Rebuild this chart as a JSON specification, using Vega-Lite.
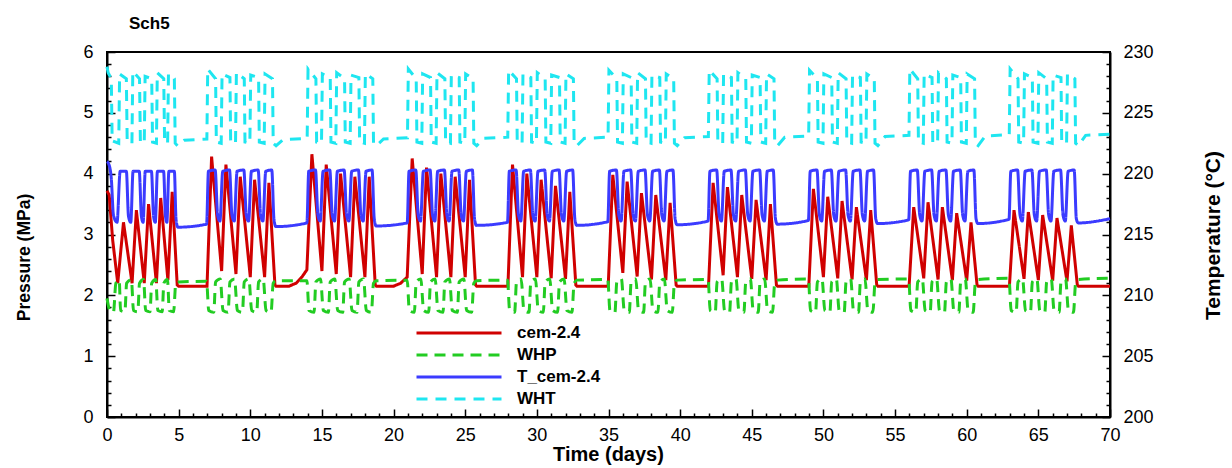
{
"$schema": "https://vega.github.io/schema/vega-lite/v6.json",
"width": 1003, "height": 365,
"autosize": {"type": "none"},
"padding": {"left": 107, "top": 52, "right": 122, "bottom": 51},
"background": "white",
"title": {"text": "Sch5", "anchor": "start", "frame": "group", "dx": 22, "dy": 25, "offset": 22, "baseline": "alphabetic", "fontSize": 17, "fontWeight": "bold", "font": "Liberation Sans", "color": "black"},
"config": {"view": {"stroke": "black", "strokeWidth": 2}, "font": "Liberation Sans"},
"datasets": {
"red": [
{"t":0,"v":3.72},{"t":0.15,"v":3.65},{"t":0.4,"v":2.9},{"t":0.75,"v":2.2},
{"t":1.15,"v":3.2},{"t":1.75,"v":2.2},{"t":2.05,"v":3.4},{"t":2.6,"v":2.2},{"t":2.9,"v":3.5},{"t":3.45,"v":2.2},{"t":3.75,"v":3.6},{"t":4.25,"v":2.25},{"t":4.55,"v":3.7},{"t":4.9,"v":2.17},{"t":5.0,"v":2.15},{"t":6.98,"v":2.15},
{"t":7.3,"v":4.28},{"t":8.0,"v":2.4},{"t":8.3,"v":4.15},{"t":9.0,"v":2.35},{"t":9.3,"v":3.95},{"t":10.0,"v":2.3},{"t":10.3,"v":3.9},{"t":11.0,"v":2.3},{"t":11.3,"v":3.85},{"t":11.72,"v":2.17},{"t":11.8,"v":2.15},{"t":12.7,"v":2.15},{"t":13.2,"v":2.2},{"t":13.6,"v":2.3},{"t":13.95,"v":2.42},
{"t":14.3,"v":4.32},{"t":15.0,"v":2.4},{"t":15.3,"v":4.15},{"t":16.0,"v":2.35},{"t":16.3,"v":4.0},{"t":17.0,"v":2.3},{"t":17.3,"v":3.95},{"t":18.0,"v":2.3},{"t":18.3,"v":3.95},{"t":18.72,"v":2.17},{"t":18.8,"v":2.15},{"t":20.0,"v":2.15},{"t":20.5,"v":2.2},{"t":20.95,"v":2.3},
{"t":21.3,"v":4.25},{"t":22.0,"v":2.35},{"t":22.3,"v":4.1},{"t":23.0,"v":2.3},{"t":23.3,"v":4.0},{"t":24.0,"v":2.3},{"t":24.3,"v":3.95},{"t":25.0,"v":2.3},{"t":25.3,"v":3.9},{"t":25.72,"v":2.17},{"t":25.8,"v":2.15},{"t":27.98,"v":2.15},
{"t":28.3,"v":4.15},{"t":29.0,"v":2.3},{"t":29.3,"v":4.0},{"t":30.0,"v":2.3},{"t":30.3,"v":3.9},{"t":31.0,"v":2.28},{"t":31.3,"v":3.8},{"t":32.0,"v":2.27},{"t":32.3,"v":3.7},{"t":32.72,"v":2.17},{"t":32.8,"v":2.15},{"t":34.98,"v":2.15},
{"t":35.3,"v":3.98},{"t":36.0,"v":2.37},{"t":36.3,"v":3.87},{"t":37.0,"v":2.31},{"t":37.3,"v":3.68},{"t":38.0,"v":2.26},{"t":38.3,"v":3.65},{"t":39.0,"v":2.25},{"t":39.3,"v":3.52},{"t":39.72,"v":2.17},{"t":39.8,"v":2.15},{"t":41.98,"v":2.15},
{"t":42.3,"v":3.85},{"t":43.0,"v":2.33},{"t":43.3,"v":3.78},{"t":44.0,"v":2.3},{"t":44.3,"v":3.65},{"t":45.0,"v":2.27},{"t":45.3,"v":3.57},{"t":46.0,"v":2.25},{"t":46.3,"v":3.5},{"t":46.72,"v":2.17},{"t":46.8,"v":2.15},{"t":48.98,"v":2.15},
{"t":49.3,"v":3.75},{"t":50.0,"v":2.3},{"t":50.3,"v":3.62},{"t":51.0,"v":2.28},{"t":51.3,"v":3.55},{"t":52.0,"v":2.26},{"t":52.3,"v":3.45},{"t":53.0,"v":2.25},{"t":53.3,"v":3.4},{"t":53.72,"v":2.17},{"t":53.8,"v":2.15},{"t":55.98,"v":2.15},
{"t":56.3,"v":3.45},{"t":57.0,"v":2.28},{"t":57.3,"v":3.53},{"t":58.0,"v":2.26},{"t":58.3,"v":3.45},{"t":59.0,"v":2.25},{"t":59.3,"v":3.35},{"t":60.0,"v":2.24},{"t":60.3,"v":3.2},{"t":60.72,"v":2.17},{"t":60.8,"v":2.15},{"t":62.98,"v":2.15},
{"t":63.3,"v":3.4},{"t":64.0,"v":2.27},{"t":64.3,"v":3.37},{"t":65.0,"v":2.25},{"t":65.3,"v":3.32},{"t":66.0,"v":2.24},{"t":66.3,"v":3.27},{"t":67.0,"v":2.23},{"t":67.3,"v":3.15},{"t":67.72,"v":2.17},{"t":67.8,"v":2.15},{"t":70,"v":2.15}
],
"green": [
{"t":0,"v":1.95},{"t":0.2,"v":1.75},{"t":0.45,"v":1.72},{"t":0.62,"v":2.2},{"t":0.85,"v":2.25},
{"t":0.95,"v":1.75},{"t":1.25,"v":1.73},{"t":1.37,"v":2.2},{"t":1.7,"v":2.26},
{"t":1.85,"v":1.75},{"t":2.15,"v":1.73},{"t":2.27,"v":2.2},{"t":2.55,"v":2.26},
{"t":2.7,"v":1.75},{"t":3.0,"v":1.73},{"t":3.12,"v":2.2},{"t":3.4,"v":2.26},
{"t":3.55,"v":1.75},{"t":3.85,"v":1.73},{"t":3.97,"v":2.2},{"t":4.22,"v":2.26},
{"t":4.35,"v":1.75},{"t":4.65,"v":1.73},{"t":4.8,"v":2.2},{"t":5.0,"v":2.22},{"t":6.95,"v":2.23},
{"t":7.1,"v":1.75},{"t":7.45,"v":1.72},{"t":7.58,"v":2.22},{"t":7.9,"v":2.27},
{"t":8.1,"v":1.75},{"t":8.45,"v":1.72},{"t":8.58,"v":2.22},{"t":8.9,"v":2.27},
{"t":9.1,"v":1.75},{"t":9.45,"v":1.72},{"t":9.58,"v":2.22},{"t":9.9,"v":2.27},
{"t":10.1,"v":1.75},{"t":10.45,"v":1.72},{"t":10.58,"v":2.22},{"t":10.9,"v":2.27},
{"t":11.1,"v":1.75},{"t":11.45,"v":1.72},{"t":11.6,"v":2.2},{"t":11.8,"v":2.24},{"t":13.95,"v":2.24},
{"t":14.1,"v":1.75},{"t":14.45,"v":1.72},{"t":14.58,"v":2.22},{"t":14.9,"v":2.27},
{"t":15.1,"v":1.75},{"t":15.45,"v":1.72},{"t":15.58,"v":2.22},{"t":15.9,"v":2.27},
{"t":16.1,"v":1.75},{"t":16.45,"v":1.72},{"t":16.58,"v":2.22},{"t":16.9,"v":2.27},
{"t":17.1,"v":1.75},{"t":17.45,"v":1.72},{"t":17.58,"v":2.22},{"t":17.9,"v":2.27},
{"t":18.1,"v":1.75},{"t":18.45,"v":1.72},{"t":18.6,"v":2.2},{"t":18.8,"v":2.24},{"t":20.95,"v":2.25},
{"t":21.1,"v":1.75},{"t":21.45,"v":1.72},{"t":21.58,"v":2.22},{"t":21.9,"v":2.27},
{"t":22.1,"v":1.75},{"t":22.45,"v":1.72},{"t":22.58,"v":2.22},{"t":22.9,"v":2.27},
{"t":23.1,"v":1.75},{"t":23.45,"v":1.72},{"t":23.58,"v":2.22},{"t":23.9,"v":2.27},
{"t":24.1,"v":1.75},{"t":24.45,"v":1.72},{"t":24.58,"v":2.22},{"t":24.9,"v":2.27},
{"t":25.1,"v":1.75},{"t":25.45,"v":1.72},{"t":25.6,"v":2.2},{"t":25.8,"v":2.24},{"t":27.95,"v":2.25},
{"t":28.1,"v":1.75},{"t":28.45,"v":1.72},{"t":28.58,"v":2.22},{"t":28.9,"v":2.27},
{"t":29.1,"v":1.75},{"t":29.45,"v":1.72},{"t":29.58,"v":2.22},{"t":29.9,"v":2.27},
{"t":30.1,"v":1.75},{"t":30.45,"v":1.72},{"t":30.58,"v":2.22},{"t":30.9,"v":2.27},
{"t":31.1,"v":1.75},{"t":31.45,"v":1.72},{"t":31.58,"v":2.22},{"t":31.9,"v":2.27},
{"t":32.1,"v":1.75},{"t":32.45,"v":1.72},{"t":32.6,"v":2.2},{"t":32.8,"v":2.25},{"t":34.95,"v":2.26},
{"t":35.1,"v":1.75},{"t":35.45,"v":1.72},{"t":35.58,"v":2.22},{"t":35.9,"v":2.27},
{"t":36.1,"v":1.75},{"t":36.45,"v":1.72},{"t":36.58,"v":2.22},{"t":36.9,"v":2.27},
{"t":37.1,"v":1.75},{"t":37.45,"v":1.72},{"t":37.58,"v":2.22},{"t":37.9,"v":2.27},
{"t":38.1,"v":1.75},{"t":38.45,"v":1.72},{"t":38.58,"v":2.22},{"t":38.9,"v":2.27},
{"t":39.1,"v":1.75},{"t":39.45,"v":1.72},{"t":39.6,"v":2.2},{"t":39.8,"v":2.25},{"t":41.95,"v":2.26},
{"t":42.1,"v":1.75},{"t":42.45,"v":1.72},{"t":42.58,"v":2.22},{"t":42.9,"v":2.27},
{"t":43.1,"v":1.75},{"t":43.45,"v":1.72},{"t":43.58,"v":2.22},{"t":43.9,"v":2.27},
{"t":44.1,"v":1.75},{"t":44.45,"v":1.72},{"t":44.58,"v":2.22},{"t":44.9,"v":2.27},
{"t":45.1,"v":1.75},{"t":45.45,"v":1.72},{"t":45.58,"v":2.22},{"t":45.9,"v":2.27},
{"t":46.1,"v":1.75},{"t":46.45,"v":1.72},{"t":46.6,"v":2.2},{"t":46.8,"v":2.25},{"t":48.95,"v":2.27},
{"t":49.1,"v":1.75},{"t":49.45,"v":1.72},{"t":49.58,"v":2.22},{"t":49.9,"v":2.27},
{"t":50.1,"v":1.75},{"t":50.45,"v":1.72},{"t":50.58,"v":2.22},{"t":50.9,"v":2.27},
{"t":51.1,"v":1.75},{"t":51.45,"v":1.72},{"t":51.58,"v":2.22},{"t":51.9,"v":2.27},
{"t":52.1,"v":1.75},{"t":52.45,"v":1.72},{"t":52.58,"v":2.22},{"t":52.9,"v":2.27},
{"t":53.1,"v":1.75},{"t":53.45,"v":1.72},{"t":53.6,"v":2.2},{"t":53.8,"v":2.26},{"t":55.95,"v":2.27},
{"t":56.1,"v":1.75},{"t":56.45,"v":1.72},{"t":56.58,"v":2.22},{"t":56.9,"v":2.27},
{"t":57.1,"v":1.75},{"t":57.45,"v":1.72},{"t":57.58,"v":2.22},{"t":57.9,"v":2.27},
{"t":58.1,"v":1.75},{"t":58.45,"v":1.72},{"t":58.58,"v":2.22},{"t":58.9,"v":2.27},
{"t":59.1,"v":1.75},{"t":59.45,"v":1.72},{"t":59.58,"v":2.22},{"t":59.9,"v":2.27},
{"t":60.1,"v":1.75},{"t":60.45,"v":1.72},{"t":60.6,"v":2.2},{"t":60.8,"v":2.26},{"t":62.95,"v":2.28},
{"t":63.1,"v":1.75},{"t":63.45,"v":1.72},{"t":63.58,"v":2.22},{"t":63.9,"v":2.27},
{"t":64.1,"v":1.75},{"t":64.45,"v":1.72},{"t":64.58,"v":2.22},{"t":64.9,"v":2.27},
{"t":65.1,"v":1.75},{"t":65.45,"v":1.72},{"t":65.58,"v":2.22},{"t":65.9,"v":2.27},
{"t":66.1,"v":1.75},{"t":66.45,"v":1.72},{"t":66.58,"v":2.22},{"t":66.9,"v":2.27},
{"t":67.1,"v":1.75},{"t":67.45,"v":1.72},{"t":67.6,"v":2.2},{"t":67.8,"v":2.26},{"t":70,"v":2.28}
],
"blue": [
{"t":0,"v":221.0},{"t":0.12,"v":220.8},{"t":0.3,"v":219.6},{"t":0.45,"v":216.6},{"t":0.7,"v":216.0},
{"t":0.92,"v":220.2},{"t":1.35,"v":220.2},{"t":1.5,"v":216.5},{"t":1.66,"v":216.0},
{"t":1.82,"v":220.2},{"t":2.25,"v":220.2},{"t":2.4,"v":216.5},{"t":2.52,"v":216.0},
{"t":2.67,"v":220.2},{"t":3.1,"v":220.2},{"t":3.25,"v":216.5},{"t":3.37,"v":216.0},
{"t":3.52,"v":220.2},{"t":3.95,"v":220.2},{"t":4.08,"v":216.5},{"t":4.18,"v":216.0},
{"t":4.32,"v":220.2},{"t":4.7,"v":220.2},{"t":4.82,"v":216.2},{"t":4.95,"v":215.6},{"t":6.95,"v":215.85},
{"t":7.08,"v":220.2},{"t":7.55,"v":220.3},{"t":7.72,"v":216.6},{"t":7.88,"v":216.1},
{"t":8.08,"v":220.2},{"t":8.55,"v":220.3},{"t":8.72,"v":216.6},{"t":8.88,"v":216.1},
{"t":9.08,"v":220.2},{"t":9.55,"v":220.3},{"t":9.72,"v":216.6},{"t":9.88,"v":216.1},
{"t":10.08,"v":220.2},{"t":10.55,"v":220.3},{"t":10.72,"v":216.6},{"t":10.88,"v":216.1},
{"t":11.08,"v":220.2},{"t":11.5,"v":220.3},{"t":11.65,"v":216.3},{"t":11.78,"v":215.65},{"t":13.95,"v":215.95},
{"t":14.08,"v":220.2},{"t":14.55,"v":220.3},{"t":14.72,"v":216.6},{"t":14.88,"v":216.1},
{"t":15.08,"v":220.2},{"t":15.55,"v":220.3},{"t":15.72,"v":216.6},{"t":15.88,"v":216.1},
{"t":16.08,"v":220.2},{"t":16.55,"v":220.3},{"t":16.72,"v":216.6},{"t":16.88,"v":216.1},
{"t":17.08,"v":220.2},{"t":17.55,"v":220.3},{"t":17.72,"v":216.6},{"t":17.88,"v":216.1},
{"t":18.08,"v":220.2},{"t":18.5,"v":220.3},{"t":18.65,"v":216.3},{"t":18.78,"v":215.7},{"t":20.95,"v":215.95},
{"t":21.08,"v":220.2},{"t":21.55,"v":220.3},{"t":21.72,"v":216.6},{"t":21.88,"v":216.1},
{"t":22.08,"v":220.2},{"t":22.55,"v":220.3},{"t":22.72,"v":216.6},{"t":22.88,"v":216.1},
{"t":23.08,"v":220.2},{"t":23.55,"v":220.3},{"t":23.72,"v":216.6},{"t":23.88,"v":216.1},
{"t":24.08,"v":220.2},{"t":24.55,"v":220.3},{"t":24.72,"v":216.6},{"t":24.88,"v":216.1},
{"t":25.08,"v":220.2},{"t":25.5,"v":220.3},{"t":25.65,"v":216.3},{"t":25.78,"v":215.75},{"t":27.95,"v":216.0},
{"t":28.08,"v":220.2},{"t":28.55,"v":220.3},{"t":28.72,"v":216.6},{"t":28.88,"v":216.1},
{"t":29.08,"v":220.2},{"t":29.55,"v":220.3},{"t":29.72,"v":216.6},{"t":29.88,"v":216.1},
{"t":30.08,"v":220.2},{"t":30.55,"v":220.3},{"t":30.72,"v":216.6},{"t":30.88,"v":216.1},
{"t":31.08,"v":220.2},{"t":31.55,"v":220.3},{"t":31.72,"v":216.6},{"t":31.88,"v":216.1},
{"t":32.08,"v":220.2},{"t":32.5,"v":220.3},{"t":32.65,"v":216.3},{"t":32.78,"v":215.75},{"t":34.95,"v":216.05},
{"t":35.08,"v":220.2},{"t":35.55,"v":220.3},{"t":35.72,"v":216.6},{"t":35.88,"v":216.1},
{"t":36.08,"v":220.2},{"t":36.55,"v":220.3},{"t":36.72,"v":216.6},{"t":36.88,"v":216.1},
{"t":37.08,"v":220.2},{"t":37.55,"v":220.3},{"t":37.72,"v":216.6},{"t":37.88,"v":216.1},
{"t":38.08,"v":220.2},{"t":38.55,"v":220.3},{"t":38.72,"v":216.6},{"t":38.88,"v":216.1},
{"t":39.08,"v":220.2},{"t":39.5,"v":220.3},{"t":39.65,"v":216.3},{"t":39.78,"v":215.8},{"t":41.95,"v":216.1},
{"t":42.08,"v":220.2},{"t":42.55,"v":220.3},{"t":42.72,"v":216.6},{"t":42.88,"v":216.1},
{"t":43.08,"v":220.2},{"t":43.55,"v":220.3},{"t":43.72,"v":216.6},{"t":43.88,"v":216.1},
{"t":44.08,"v":220.2},{"t":44.55,"v":220.3},{"t":44.72,"v":216.6},{"t":44.88,"v":216.1},
{"t":45.08,"v":220.2},{"t":45.55,"v":220.3},{"t":45.72,"v":216.6},{"t":45.88,"v":216.1},
{"t":46.08,"v":220.2},{"t":46.5,"v":220.3},{"t":46.65,"v":216.3},{"t":46.78,"v":215.85},{"t":48.95,"v":216.15},
{"t":49.08,"v":220.2},{"t":49.55,"v":220.3},{"t":49.72,"v":216.6},{"t":49.88,"v":216.1},
{"t":50.08,"v":220.2},{"t":50.55,"v":220.3},{"t":50.72,"v":216.6},{"t":50.88,"v":216.1},
{"t":51.08,"v":220.2},{"t":51.55,"v":220.3},{"t":51.72,"v":216.6},{"t":51.88,"v":216.1},
{"t":52.08,"v":220.2},{"t":52.55,"v":220.3},{"t":52.72,"v":216.6},{"t":52.88,"v":216.1},
{"t":53.08,"v":220.2},{"t":53.5,"v":220.3},{"t":53.65,"v":216.3},{"t":53.78,"v":215.9},{"t":55.95,"v":216.2},
{"t":56.08,"v":220.2},{"t":56.55,"v":220.3},{"t":56.72,"v":216.6},{"t":56.88,"v":216.1},
{"t":57.08,"v":220.2},{"t":57.55,"v":220.3},{"t":57.72,"v":216.6},{"t":57.88,"v":216.1},
{"t":58.08,"v":220.2},{"t":58.55,"v":220.3},{"t":58.72,"v":216.6},{"t":58.88,"v":216.1},
{"t":59.08,"v":220.2},{"t":59.55,"v":220.3},{"t":59.72,"v":216.6},{"t":59.88,"v":216.1},
{"t":60.08,"v":220.2},{"t":60.5,"v":220.3},{"t":60.65,"v":216.3},{"t":60.78,"v":215.9},{"t":62.95,"v":216.25},
{"t":63.08,"v":220.2},{"t":63.55,"v":220.3},{"t":63.72,"v":216.6},{"t":63.88,"v":216.1},
{"t":64.08,"v":220.2},{"t":64.55,"v":220.3},{"t":64.72,"v":216.6},{"t":64.88,"v":216.1},
{"t":65.08,"v":220.2},{"t":65.55,"v":220.3},{"t":65.72,"v":216.6},{"t":65.88,"v":216.1},
{"t":66.08,"v":220.2},{"t":66.55,"v":220.3},{"t":66.72,"v":216.6},{"t":66.88,"v":216.1},
{"t":67.08,"v":220.2},{"t":67.5,"v":220.3},{"t":67.65,"v":216.3},{"t":67.78,"v":215.95},{"t":70,"v":216.3}
],
"cyan": [
{"t":0,"v":228.8},{"t":0.08,"v":228.3},{"t":0.3,"v":227.8},{"t":0.36,"v":222.7},{"t":0.82,"v":222.5},
{"t":0.88,"v":228.2},{"t":1.35,"v":227.8},{"t":1.41,"v":222.6},{"t":1.74,"v":222.5},
{"t":1.8,"v":228.4},{"t":2.27,"v":227.8},{"t":2.33,"v":222.6},{"t":2.6,"v":222.5},
{"t":2.66,"v":228.0},{"t":3.12,"v":227.8},{"t":3.18,"v":222.6},{"t":3.45,"v":222.5},
{"t":3.51,"v":228.3},{"t":3.96,"v":227.8},{"t":4.02,"v":222.6},{"t":4.23,"v":222.5},
{"t":4.29,"v":228.2},{"t":4.7,"v":227.8},{"t":4.76,"v":222.5},{"t":4.92,"v":222.3},{"t":5.4,"v":222.75},{"t":6.97,"v":222.85},
{"t":7.03,"v":228.6},{"t":7.58,"v":227.8},{"t":7.63,"v":222.6},{"t":7.97,"v":222.5},
{"t":8.03,"v":228.2},{"t":8.58,"v":227.9},{"t":8.63,"v":222.6},{"t":8.97,"v":222.5},
{"t":9.03,"v":228.3},{"t":9.58,"v":227.8},{"t":9.63,"v":222.6},{"t":9.97,"v":222.5},
{"t":10.03,"v":228.1},{"t":10.58,"v":227.9},{"t":10.63,"v":222.6},{"t":10.97,"v":222.5},
{"t":11.03,"v":228.2},{"t":11.55,"v":227.8},{"t":11.6,"v":222.5},{"t":11.8,"v":222.3},{"t":12.3,"v":222.8},{"t":13.97,"v":222.9},
{"t":14.03,"v":228.6},{"t":14.58,"v":227.8},{"t":14.63,"v":222.6},{"t":14.97,"v":222.5},
{"t":15.03,"v":228.2},{"t":15.58,"v":227.9},{"t":15.63,"v":222.6},{"t":15.97,"v":222.5},
{"t":16.03,"v":228.3},{"t":16.58,"v":227.8},{"t":16.63,"v":222.6},{"t":16.97,"v":222.5},
{"t":17.03,"v":228.1},{"t":17.58,"v":227.9},{"t":17.63,"v":222.6},{"t":17.97,"v":222.5},
{"t":18.03,"v":228.2},{"t":18.55,"v":227.8},{"t":18.6,"v":222.5},{"t":18.8,"v":222.3},{"t":19.3,"v":222.85},{"t":20.97,"v":222.95},
{"t":21.03,"v":228.6},{"t":21.58,"v":227.8},{"t":21.63,"v":222.6},{"t":21.97,"v":222.5},
{"t":22.03,"v":228.2},{"t":22.58,"v":227.9},{"t":22.63,"v":222.6},{"t":22.97,"v":222.5},
{"t":23.03,"v":228.3},{"t":23.58,"v":227.8},{"t":23.63,"v":222.6},{"t":23.97,"v":222.5},
{"t":24.03,"v":228.1},{"t":24.58,"v":227.9},{"t":24.63,"v":222.6},{"t":24.97,"v":222.5},
{"t":25.03,"v":228.2},{"t":25.55,"v":227.8},{"t":25.6,"v":222.5},{"t":25.8,"v":222.3},{"t":26.3,"v":222.9},{"t":27.97,"v":223.0},
{"t":28.03,"v":228.5},{"t":28.58,"v":227.8},{"t":28.63,"v":222.6},{"t":28.97,"v":222.5},
{"t":29.03,"v":228.2},{"t":29.58,"v":227.9},{"t":29.63,"v":222.6},{"t":29.97,"v":222.5},
{"t":30.03,"v":228.3},{"t":30.58,"v":227.8},{"t":30.63,"v":222.6},{"t":30.97,"v":222.5},
{"t":31.03,"v":228.1},{"t":31.58,"v":227.9},{"t":31.63,"v":222.6},{"t":31.97,"v":222.5},
{"t":32.03,"v":228.2},{"t":32.55,"v":227.8},{"t":32.6,"v":222.5},{"t":32.8,"v":222.3},{"t":33.3,"v":222.9},{"t":34.97,"v":223.0},
{"t":35.03,"v":228.5},{"t":35.58,"v":227.8},{"t":35.63,"v":222.6},{"t":35.97,"v":222.5},
{"t":36.03,"v":228.2},{"t":36.58,"v":227.9},{"t":36.63,"v":222.6},{"t":36.97,"v":222.5},
{"t":37.03,"v":228.3},{"t":37.58,"v":227.8},{"t":37.63,"v":222.6},{"t":37.97,"v":222.5},
{"t":38.03,"v":228.1},{"t":38.58,"v":227.9},{"t":38.63,"v":222.6},{"t":38.97,"v":222.5},
{"t":39.03,"v":228.2},{"t":39.55,"v":227.8},{"t":39.6,"v":222.5},{"t":39.8,"v":222.3},{"t":40.3,"v":222.95},{"t":41.97,"v":223.05},
{"t":42.03,"v":228.5},{"t":42.58,"v":227.8},{"t":42.63,"v":222.6},{"t":42.97,"v":222.5},
{"t":43.03,"v":228.2},{"t":43.58,"v":227.9},{"t":43.63,"v":222.6},{"t":43.97,"v":222.5},
{"t":44.03,"v":228.3},{"t":44.58,"v":227.8},{"t":44.63,"v":222.6},{"t":44.97,"v":222.5},
{"t":45.03,"v":228.1},{"t":45.58,"v":227.9},{"t":45.63,"v":222.6},{"t":45.97,"v":222.5},
{"t":46.03,"v":228.2},{"t":46.55,"v":227.8},{"t":46.6,"v":222.5},{"t":46.8,"v":222.3},{"t":47.3,"v":223.0},{"t":48.97,"v":223.1},
{"t":49.03,"v":228.5},{"t":49.58,"v":227.8},{"t":49.63,"v":222.6},{"t":49.97,"v":222.5},
{"t":50.03,"v":228.2},{"t":50.58,"v":227.9},{"t":50.63,"v":222.6},{"t":50.97,"v":222.5},
{"t":51.03,"v":228.3},{"t":51.58,"v":227.8},{"t":51.63,"v":222.6},{"t":51.97,"v":222.5},
{"t":52.03,"v":228.1},{"t":52.58,"v":227.9},{"t":52.63,"v":222.6},{"t":52.97,"v":222.5},
{"t":53.03,"v":228.2},{"t":53.55,"v":227.8},{"t":53.6,"v":222.5},{"t":53.8,"v":222.3},{"t":54.3,"v":223.05},{"t":55.97,"v":223.15},
{"t":56.03,"v":228.6},{"t":56.58,"v":227.8},{"t":56.63,"v":222.6},{"t":56.97,"v":222.5},
{"t":57.03,"v":228.2},{"t":57.58,"v":227.9},{"t":57.63,"v":222.6},{"t":57.97,"v":222.5},
{"t":58.03,"v":228.3},{"t":58.58,"v":227.8},{"t":58.63,"v":222.6},{"t":58.97,"v":222.5},
{"t":59.03,"v":228.1},{"t":59.58,"v":227.9},{"t":59.63,"v":222.6},{"t":59.97,"v":222.5},
{"t":60.03,"v":228.2},{"t":60.55,"v":227.8},{"t":60.6,"v":222.5},{"t":60.8,"v":222.3},{"t":61.3,"v":223.1},{"t":62.97,"v":223.2},
{"t":63.03,"v":228.6},{"t":63.58,"v":227.8},{"t":63.63,"v":222.6},{"t":63.97,"v":222.5},
{"t":64.03,"v":228.2},{"t":64.58,"v":227.9},{"t":64.63,"v":222.6},{"t":64.97,"v":222.5},
{"t":65.03,"v":228.3},{"t":65.58,"v":227.8},{"t":65.63,"v":222.6},{"t":65.97,"v":222.5},
{"t":66.03,"v":228.1},{"t":66.58,"v":227.9},{"t":66.63,"v":222.6},{"t":66.97,"v":222.5},
{"t":67.03,"v":228.2},{"t":67.55,"v":227.8},{"t":67.6,"v":222.5},{"t":67.8,"v":222.3},{"t":68.3,"v":223.15},{"t":70,"v":223.25}
]
},
"encoding": {
  "x": {"field": "t", "type": "quantitative", "scale": {"domain": [0, 70], "nice": false, "zero": false},
    "axis": {"title": "Time (days)", "values": [0,1,2,3,4,5,6,7,8,9,10,11,12,13,14,15,16,17,18,19,20,21,22,23,24,25,26,27,28,29,30,31,32,33,34,35,36,37,38,39,40,41,42,43,44,45,46,47,48,49,50,51,52,53,54,55,56,57,58,59,60,61,62,63,64,65,66,67,68,69,70],
      "labelExpr": "datum.value % 5 === 0 ? datum.label : ''",
      "tickSize": {"condition": {"test": "datum.value % 5 === 0", "value": -8}, "value": -4},
      "grid": false, "domainColor": "black", "domainWidth": 2, "tickColor": "black", "tickWidth": 1.5,
      "labelFont": "Liberation Sans", "labelFontSize": 18, "labelColor": "black", "labelPadding": 17, "labelOverlap": false, "labelFlush": false, "labelBound": false,
      "titleFont": "Liberation Sans", "titleFontSize": 20, "titleFontWeight": "bold", "titleColor": "black",
      "titleX": 501, "titleY": 43, "titleBaseline": "alphabetic", "titleAnchor": "middle"}}
},
"layer": [
  {
    "encoding": {
      "y": {"field": "v", "type": "quantitative", "scale": {"domain": [0, 6], "nice": false, "zero": false},
        "axis": {"title": "Pressure (MPa)", "orient": "left",
          "values": [0,0.2,0.4,0.6,0.8,1,1.2,1.4,1.6,1.8,2,2.2,2.4,2.6,2.8,3,3.2,3.4,3.6,3.8,4,4.2,4.4,4.6,4.8,5,5.2,5.4,5.6,5.8,6],
          "labelExpr": "datum.value % 1 === 0 ? format(datum.value, 'd') : ''",
          "tickSize": {"condition": {"test": "datum.value % 1 === 0", "value": -8}, "value": -4},
          "grid": false, "domainColor": "black", "domainWidth": 2, "tickColor": "black", "tickWidth": 1.5,
          "labelFont": "Liberation Sans", "labelFontSize": 18, "labelColor": "black", "labelPadding": 22, "labelOverlap": false, "labelFlush": false, "labelBound": false,
          "titleFont": "Liberation Sans", "titleFontSize": 17.5, "titleFontWeight": "bold", "titleColor": "black",
          "titleAngle": -90, "titleX": -78, "titleY": 205, "titleBaseline": "alphabetic", "titleAlign": "center"}}
    },
    "layer": [
      {"data": {"name": "red"}, "mark": {"type": "line", "strokeWidth": 3, "interpolate": "linear"},
       "encoding": {
         "color": {"datum": "cem-2.4", "scale": {"domain": ["cem-2.4","WHP","T_cem-2.4","WHT"], "range": ["#d00000","#22cc22","#3b3bff","#1ee6f0"]},
           "legend": {"orient": "none", "legendX": 308, "legendY": 272, "title": null, "symbolType": "stroke", "symbolSize": 7225, "symbolStrokeWidth": 3, "clipHeight": 18, "labelFont": "Liberation Sans", "labelFontSize": 17, "labelFontWeight": "bold", "labelColor": "black", "labelOffset": 14, "rowPadding": 4, "padding": 0, "labelLimit": 300}},
         "strokeDash": {"datum": "cem-2.4", "scale": {"domain": ["cem-2.4","WHP","T_cem-2.4","WHT"], "range": [[1,0],[11,7],[1,0],[11,8]]},
           "legend": {"orient": "none", "legendX": 308, "legendY": 272, "title": null, "symbolType": "stroke", "symbolSize": 7225, "symbolStrokeWidth": 3, "clipHeight": 18, "labelFont": "Liberation Sans", "labelFontSize": 17, "labelFontWeight": "bold", "labelColor": "black", "labelOffset": 14, "rowPadding": 4, "padding": 0, "labelLimit": 300}}
       }},
      {"data": {"name": "green"}, "mark": {"type": "line", "strokeWidth": 3, "interpolate": "monotone"},
       "encoding": {"color": {"datum": "WHP"}, "strokeDash": {"datum": "WHP"}}}
    ]
  },
  {
    "encoding": {
      "y": {"field": "v", "type": "quantitative", "scale": {"domain": [200, 230], "nice": false, "zero": false},
        "axis": {"title": "Temperature (°C)", "orient": "right",
          "values": [200,201,202,203,204,205,206,207,208,209,210,211,212,213,214,215,216,217,218,219,220,221,222,223,224,225,226,227,228,229,230],
          "labelExpr": "datum.value % 5 === 0 ? datum.label : ''",
          "tickSize": {"condition": {"test": "datum.value % 5 === 0", "value": -8}, "value": -4},
          "grid": false, "domainColor": "black", "domainWidth": 2, "tickColor": "black", "tickWidth": 1.5,
          "labelFont": "Liberation Sans", "labelFontSize": 18, "labelColor": "black", "labelPadding": 21, "labelOverlap": false, "labelFlush": false, "labelBound": false,
          "titleFont": "Liberation Sans", "titleFontSize": 21, "titleFontWeight": "bold", "titleColor": "black",
          "titleAngle": -90, "titleX": 109, "titleY": 183, "titleBaseline": "alphabetic", "titleAlign": "center"}}
    },
    "layer": [
      {"data": {"name": "blue"}, "mark": {"type": "line", "strokeWidth": 3, "interpolate": "monotone"},
       "encoding": {"color": {"datum": "T_cem-2.4"}, "strokeDash": {"datum": "T_cem-2.4"}}},
      {"data": {"name": "cyan"}, "mark": {"type": "line", "strokeWidth": 3, "interpolate": "linear"},
       "encoding": {"color": {"datum": "WHT"}, "strokeDash": {"datum": "WHT"}}}
    ]
  }
],
"resolve": {"scale": {"y": "independent"}}
}
